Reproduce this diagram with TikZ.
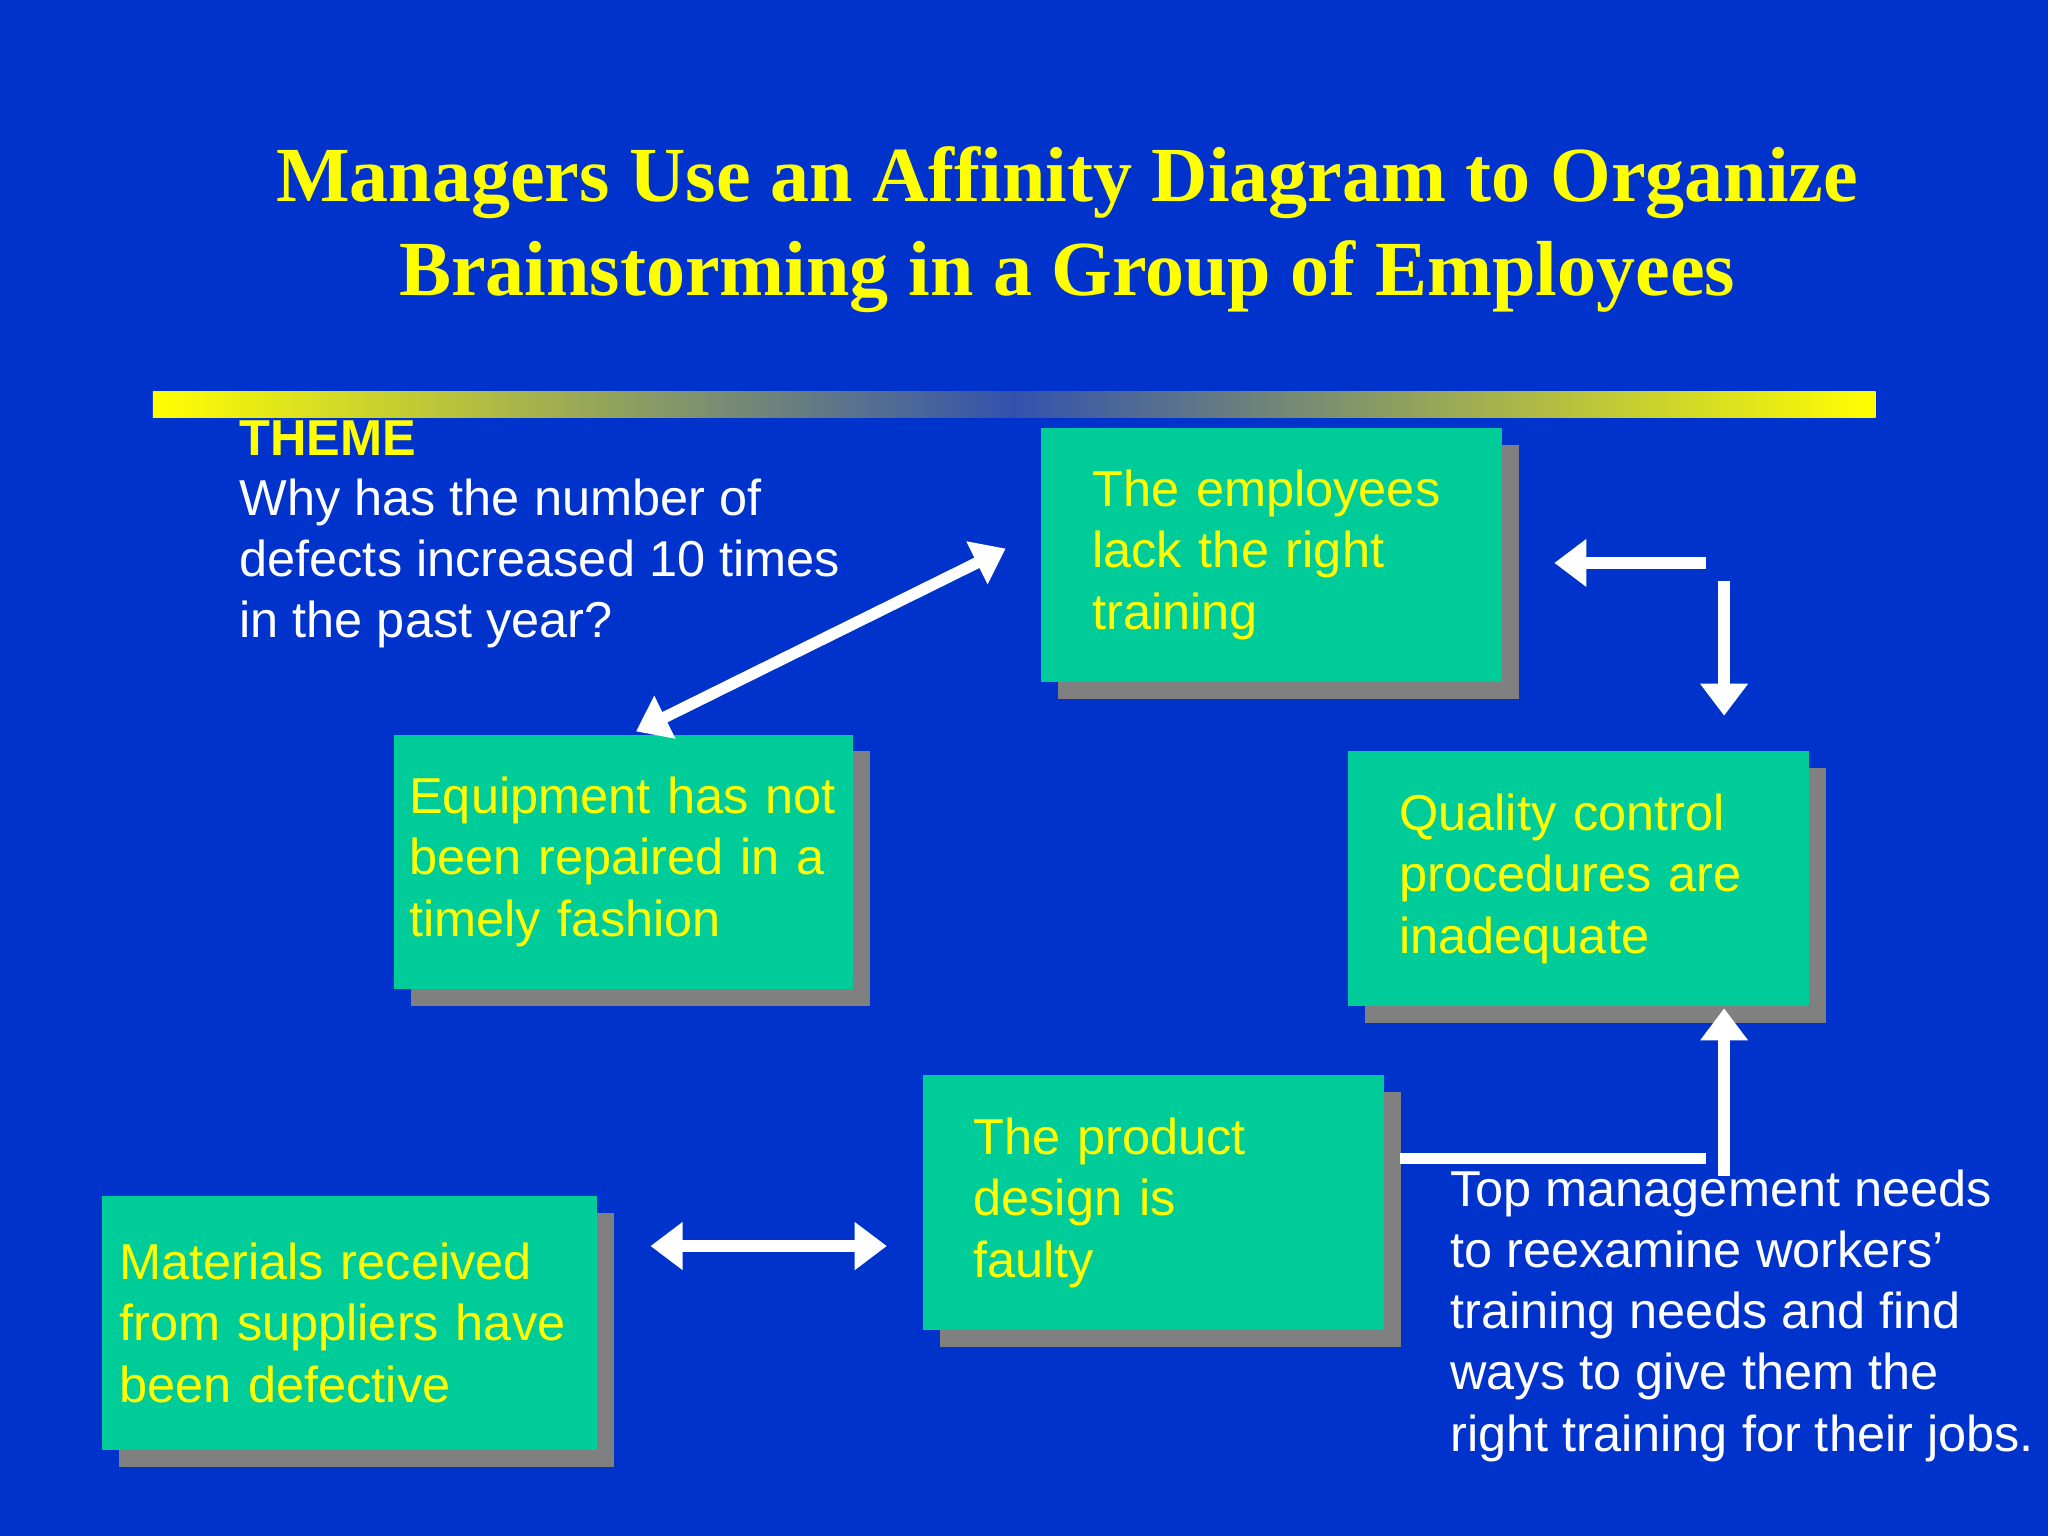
\documentclass[tikz,border=0pt]{standalone}
\usepackage{fontspec}
\setmainfont{Liberation Sans}
\newfontfamily\titlefont{Liberation Serif}
\usetikzlibrary{shadows,arrows.meta}
\definecolor{bg}{RGB}{0,51,204}
\definecolor{teal}{RGB}{0,204,153}
\definecolor{ylw}{RGB}{255,255,0}
\definecolor{shd}{RGB}{128,128,128}
\begin{document}
\begin{tikzpicture}[x=0.02cm,y=-0.02cm,
  txt/.style={font=\fontsize{22}{26.7}\selectfont, inner sep=0pt, align=left, anchor=north west},
  card/.style={fill=teal, text=ylw, anchor=north west, align=left, inner ysep=0pt,
     font=\fontsize{22}{26.7}\selectfont,
     drop shadow={shadow xshift=0.26cm, shadow yshift=-0.26cm, fill=shd, opacity=1}},
  warr/.style={white, line width=5pt, -{Triangle[length=14pt,width=20pt]}},
  wdbl/.style={white, line width=5pt, {Triangle[length=14pt,width=20pt]}-{Triangle[length=14pt,width=20pt]}}]
\fill[bg] (0,0) rectangle (1568,1176);
\useasboundingbox (0,0) rectangle (1568,1176);
\node[font=\titlefont\bfseries\fontsize{34}{41}\selectfont, text=ylw, align=center] (title) at (817,176)
 {Managers Use an Affinity Diagram to Organize\\Brainstorming in a Group of Employees};
\shade[left color=ylw, right color=ylw, middle color=bg!60!gray] (117,300) rectangle (1436,320);
\node[txt, text=ylw, font=\bfseries\fontsize{22}{26.7}\selectfont] (theme) at (183,322) {THEME};
\node[txt, text=white] (q) at (183,366) {Why has the number of\\defects increased 10 times\\in the past year?};
\node[card, minimum width=7.06cm, minimum height=3.9cm, text width=5.5cm, inner xsep=0.78cm] (b1) at (797,327) {The employees\\lack the right\\training};
\node[card, minimum width=7.04cm, minimum height=3.9cm, text width=6.56cm, inner xsep=0.24cm] (b2) at (301,562) {Equipment has not\\been repaired in a\\timely fashion};
\node[card, minimum width=7.06cm, minimum height=3.9cm, text width=5.5cm, inner xsep=0.78cm] (b3) at (1032,575) {Quality control\\procedures are\\inadequate};
\node[card, minimum width=7.04cm, minimum height=3.9cm, text width=5.5cm, inner xsep=0.78cm] (b4) at (706,823) {The product\\design is\\faulty};
\node[card, minimum width=7.58cm, minimum height=3.9cm, text width=7.06cm, inner xsep=0.26cm] (b5) at (78,915) {Materials received\\from suppliers have\\been defective};
\node[txt, text=white] (note) at (1110,895) {Top management needs\\to reexamine workers'\\training needs and find\\ways to give them the\\right training for their jobs.};
\coordinate (a1) at (487,560); \coordinate (a2) at (770,420);
\draw[wdbl] (a1) -- (a2);
\coordinate (c1) at (1306,431); \coordinate (c2) at (1190,431);
\draw[warr] (c1) -- (c2);
\coordinate (d1) at (1320,445); \coordinate (d2) at (1320,548);
\draw[warr] (d1) -- (d2);
\coordinate (e1) at (1072,887); \coordinate (e2) at (1306,887);
\draw[white, line width=5pt] (e1) -- (e2);
\coordinate (f1) at (1320,900); \coordinate (f2) at (1320,772);
\draw[warr] (f1) -- (f2);
\coordinate (g1) at (498,954); \coordinate (g2) at (679,954);
\draw[wdbl] (g1) -- (g2);
\end{tikzpicture}
\end{document}
